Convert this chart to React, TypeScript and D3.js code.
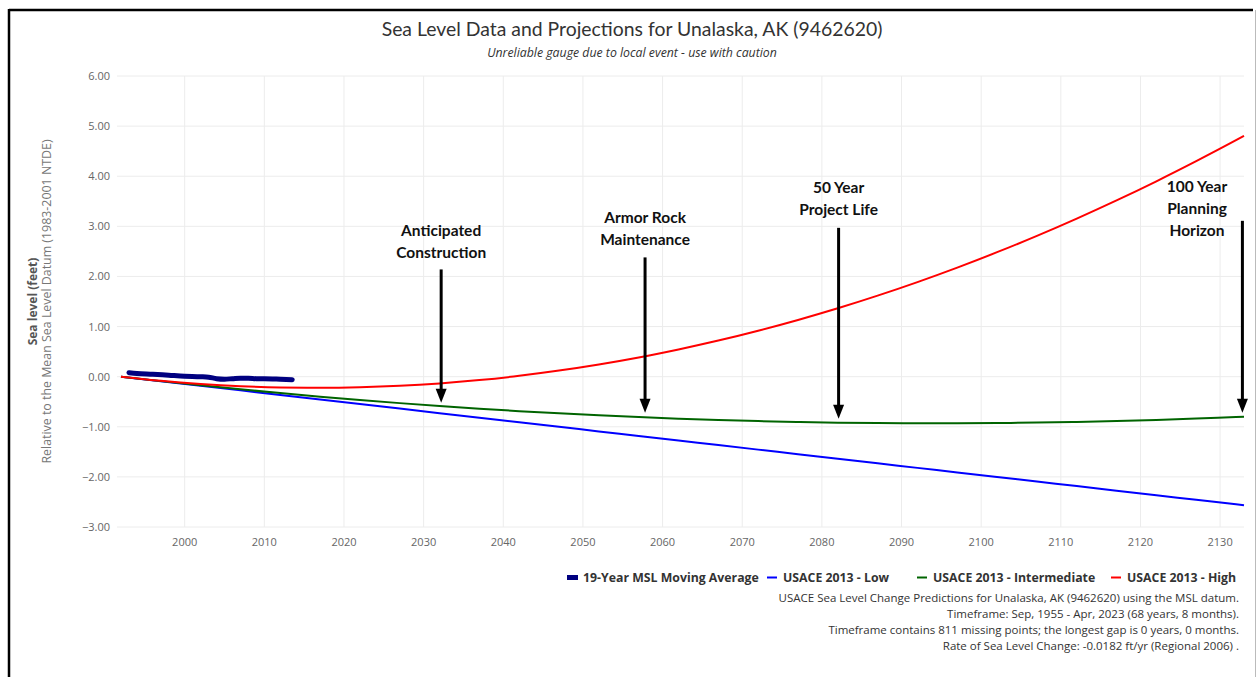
import React from "react";
import * as d3 from "d3";

// ---- data ----
const projYears = [1992, 1997, 2002, 2007, 2012, 2017, 2022, 2027, 2032, 2037, 2042, 2047, 2052, 2057, 2062, 2067, 2072, 2077, 2082, 2087, 2092, 2097, 2102, 2107, 2112, 2117, 2122, 2127, 2132, 2133];
const lowValues = [0, -0.091, -0.182, -0.273, -0.364, -0.455, -0.546, -0.637, -0.728, -0.819, -0.91, -1.001, -1.092, -1.183, -1.274, -1.365, -1.456, -1.547, -1.638, -1.729, -1.82, -1.911, -2.002, -2.093, -2.184, -2.275, -2.366, -2.457, -2.548, -2.566];
const intValues = [0, -0.089, -0.173, -0.253, -0.328, -0.399, -0.466, -0.528, -0.586, -0.639, -0.688, -0.732, -0.772, -0.807, -0.838, -0.865, -0.887, -0.905, -0.918, -0.927, -0.931, -0.931, -0.926, -0.917, -0.904, -0.886, -0.863, -0.837, -0.805, -0.799];
const highValues = [0, -0.082, -0.145, -0.19, -0.216, -0.223, -0.212, -0.183, -0.135, -0.068, 0.017, 0.121, 0.243, 0.383, 0.543, 0.72, 0.917, 1.132, 1.365, 1.617, 1.887, 2.176, 2.484, 2.81, 3.155, 3.518, 3.899, 4.3, 4.718, 4.804];

const mslYears = [1993, 1994, 1996, 1998, 2000, 2002, 2003, 2004, 2005, 2006, 2007, 2008, 2009, 2010, 2012, 2013.5];
const mslValues = [0.08, 0.065, 0.05, 0.03, 0.01, 0.0, -0.01, -0.04, -0.05, -0.04, -0.03, -0.03, -0.04, -0.04, -0.05, -0.06];

const yTicks = [6, 5, 4, 3, 2, 1, 0, -1, -2, -3];
const xTicks = [2000, 2010, 2020, 2030, 2040, 2050, 2060, 2070, 2080, 2090, 2100, 2110, 2120, 2130];

const seriesNames = ["19-Year MSL Moving Average", "USACE 2013 - Low", "USACE 2013 - Intermediate", "USACE 2013 - High"];
const seriesColors = ["#000080", "#0000ff", "#006400", "#ff0000"];

const annoLabels = [["Anticipated", "Construction"], ["Armor Rock", "Maintenance"], ["50 Year", "Project Life"], ["100 Year", "Planning", "Horizon"]];
const annoArrowYear = [2032.2, 2057.8, 2082.1, 2132.8];
const annoTextYear = [2032.2, 2057.8, 2082.1, 2127.1];
const annoTextTop = [2.8, 3.06, 3.66, 3.68];
const annoArrowTop = [2.14, 2.38, 2.97, 3.11];
const annoArrowTip = [-0.52, -0.72, -0.84, -0.72];

const captionLines = [
  "USACE Sea Level Change Predictions for Unalaska, AK (9462620) using the MSL datum.",
  "Timeframe: Sep, 1955 - Apr, 2023 (68 years, 8 months).",
  "Timeframe contains 811 missing points; the longest gap is 0 years, 0 months.",
  "Rate of Sea Level Change: -0.0182 ft/yr (Regional 2006) .",
];

const W = 1257;
const H = 677;

export default function App() {
  const x = d3.scaleLinear().domain([1991.5, 2133]).range([117, 1244]);
  const y = d3.scaleLinear().domain([-3, 6]).range([527, 76]);

  const line = d3
    .line<[number, number]>()
    .x((d) => x(d[0]))
    .y((d) => y(d[1]))
    .curve(d3.curveMonotoneX);

  const proj = [lowValues, intValues, highValues].map((vals) =>
    line(projYears.map((yr, i) => [yr, vals[i]] as [number, number]))
  );
  const msl = line(mslYears.map((yr, i) => [yr, mslValues[i]] as [number, number]));

  const fontTick = "'Open Sans', 'DejaVu Sans', sans-serif";

  const legendX = [567, 767, 917, 1111];

  return (
    <svg width={W} height={H} style={{ position: "absolute", left: 0, top: 0, background: "#fff" }}>
      <rect x={0} y={0} width={W} height={H} fill="#fff" />
      {/* frame */}
      <line x1={9} y1={10} x2={1253} y2={10} stroke="#000" strokeWidth={2.5} />
      <line x1={9} y1={9} x2={9} y2={H} stroke="#000" strokeWidth={2.5} />
      <line x1={1255.5} y1={10} x2={1255.5} y2={H} stroke="#bbb" strokeWidth={1} />

      {/* title */}
      <text x={632} y={36} textAnchor="middle" fontFamily="Lato, 'Open Sans', sans-serif" fontSize={19.4} fill="#333">
        Sea Level Data and Projections for Unalaska, AK (9462620)
      </text>
      <text x={632} y={57} textAnchor="middle" fontFamily={fontTick} fontStyle="italic" fontSize={12.3} fill="#333">
        Unreliable gauge due to local event - use with caution
      </text>

      {/* grid */}
      {yTicks.map((t) => (
        <line key={"gy" + t} x1={117} x2={1244} y1={y(t)} y2={y(t)} stroke="#ececec" strokeWidth={1} />
      ))}
      {xTicks.map((t) => (
        <line key={"gx" + t} x1={x(t)} x2={x(t)} y1={76} y2={527} stroke="#ececec" strokeWidth={1} />
      ))}

      {/* tick labels */}
      {yTicks.map((t) => (
        <text key={"ty" + t} x={110} y={y(t) + 4} textAnchor="end" fontFamily={fontTick} fontSize={11} fill="#666">
          {d3.format(".2f")(t)}
        </text>
      ))}
      {xTicks.map((t) => (
        <text key={"tx" + t} x={x(t)} y={546} textAnchor="middle" fontFamily={fontTick} fontSize={11} fill="#666">
          {t}
        </text>
      ))}

      {/* axis titles */}
      <text transform={`translate(37,${y(1.5)}) rotate(-90)`} textAnchor="middle" fontFamily={fontTick} fontWeight="bold" fontSize={12} fill="#555">
        Sea level (feet)
      </text>
      <text transform={`translate(51,${y(1.5)}) rotate(-90)`} textAnchor="middle" fontFamily={fontTick} fontSize={12.4} fill="#777">
        Relative to the Mean Sea Level Datum (1983-2001 NTDE)
      </text>

      {/* series */}
      <path d={proj[0] || ""} fill="none" stroke={seriesColors[1]} strokeWidth={2} />
      <path d={proj[1] || ""} fill="none" stroke={seriesColors[2]} strokeWidth={2} />
      <path d={proj[2] || ""} fill="none" stroke={seriesColors[3]} strokeWidth={2} />
      <path d={msl || ""} fill="none" stroke={seriesColors[0]} strokeWidth={5} strokeLinecap="round" />

      {/* annotations */}
      {annoLabels.map((lines, i) => {
        const ax = x(annoArrowYear[i]);
        const tx = x(annoTextYear[i]);
        const top = y(annoArrowTop[i]);
        const tip = y(annoArrowTip[i]);
        const ty = y(annoTextTop[i]);
        return (
          <g key={"an" + i}>
            {lines.map((s, j) => (
              <text key={j} x={tx} y={ty + j * 22} textAnchor="middle" fontFamily="Lato, 'Open Sans', sans-serif" fontWeight="bold" fontSize={15.5} fill="#111">
                {s}
              </text>
            ))}
            <line x1={ax} x2={ax} y1={top} y2={tip - 12} stroke="#000" strokeWidth={3} />
            <polygon points={`${ax - 5.5},${tip - 14} ${ax + 5.5},${tip - 14} ${ax},${tip}`} fill="#000" />
          </g>
        );
      })}

      {/* legend */}
      <rect x={legendX[0]} y={575} width={11} height={5} fill={seriesColors[0]} />
      {[1, 2, 3].map((k) => (
        <line key={"lg" + k} x1={legendX[k]} x2={legendX[k] + 10} y1={577.5} y2={577.5} stroke={seriesColors[k]} strokeWidth={2} />
      ))}
      {seriesNames.map((s, k) => (
        <text key={"lt" + k} x={legendX[k] + 16} y={582} fontFamily={fontTick} fontWeight="bold" fontSize={12.3} fill="#333">
          {s}
        </text>
      ))}

      {/* caption */}
      {captionLines.map((s, k) => (
        <text key={"cap" + k} x={1239} y={602 + k * 16} textAnchor="end" fontFamily={fontTick} fontSize={11.5} fill="#333">
          {s}
        </text>
      ))}
    </svg>
  );
}
